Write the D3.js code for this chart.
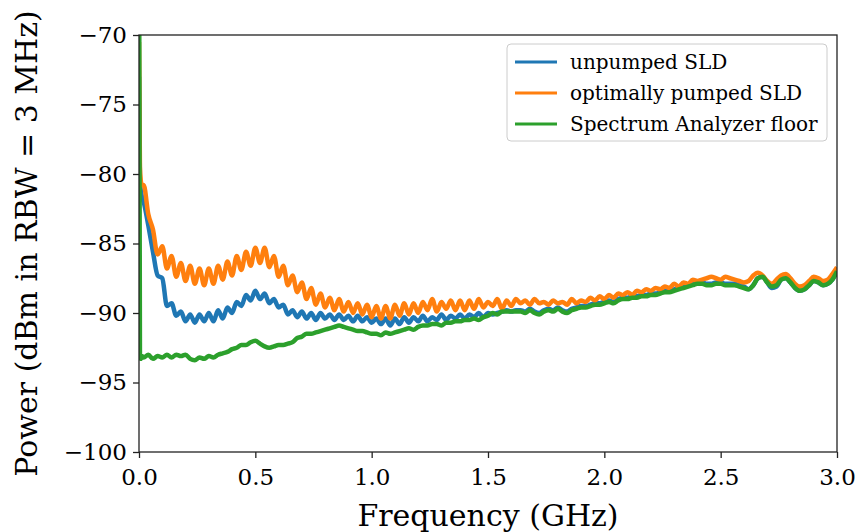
<!DOCTYPE html>
<html>
<head>
<meta charset="utf-8">
<script src="https://cdn.jsdelivr.net/npm/d3@7"></script>
<style>
  body { margin: 0; background: #fff; }
  svg { display: block; }
  text { font-family: "DejaVu Serif", serif; fill: #000; }
</style>
</head>
<body>
<div id="chart"></div>
<script>
// frequency grid (GHz): a few points near DC, then every 0.02 GHz
const leadFreqs = [0, 0.004, 0.008, 0.012];
const stepFreq = 0.02;

// power readings (dBm), same grid as above
const unpumped = [
  -73.0, -80.5, -81.2, -81.6,
  -82.0, -83.7, -85.6, -87.3, -87.5, -89.5, -89.3, -90.2, -89.9, -90.6,
  -90.1, -90.7, -90.1, -90.6, -90.0, -90.6, -89.8, -90.4, -89.6, -90.0,
  -89.2, -89.5, -88.7, -89.1, -88.4, -89.0, -88.6, -89.3, -89.0, -89.6,
  -89.4, -90.1, -89.8, -90.3, -89.9, -90.4, -90.0, -90.5, -90.0, -90.4,
  -90.1, -90.5, -90.1, -90.5, -90.2, -90.6, -90.2, -90.6, -90.3, -90.7,
  -90.4, -90.8, -90.4, -90.9, -90.4, -90.8, -90.3, -90.7, -90.3, -90.6,
  -90.2, -90.6, -90.3, -90.5, -90.1, -90.5, -90.2, -90.4, -90.1, -90.4,
  -90.1, -90.3, -90.0, -90.3, -90.0, -90.1, -90.0, -89.9, -89.8, -89.9,
  -89.8, -89.8, -89.9, -89.7, -89.9, -90.0, -89.8, -89.7, -89.8, -89.6,
  -89.8, -89.9, -89.7, -89.6, -89.5, -89.5, -89.4, -89.3, -89.3, -89.2,
  -89.1, -89.2, -89.0, -88.9, -88.9, -88.8, -88.8, -88.7, -88.7, -88.6,
  -88.6, -88.5, -88.4, -88.4, -88.3, -88.2, -88.1, -88.0, -87.9, -87.8,
  -87.8, -87.9, -87.9, -87.8, -87.8, -87.9, -87.9, -87.9, -88.0, -88.1,
  -88.3, -88.0, -87.5, -87.4, -87.8, -88.2, -88.1, -87.6, -87.5, -87.8,
  -88.2, -88.4, -88.3, -88.0, -87.7, -87.8, -88.0, -87.9, -87.6, -87.0
];

const pumped = [
  -70.5, -79.5, -80.5, -80.8,
  -80.8, -82.9, -84.0, -85.8, -85.2, -86.8, -85.9, -87.4, -86.4, -87.7,
  -86.6, -87.9, -86.8, -88.0, -86.8, -87.9, -86.6, -87.6, -86.3, -87.3,
  -85.9, -86.9, -85.6, -86.6, -85.3, -86.4, -85.3, -86.7, -85.9, -87.4,
  -86.6, -88.0, -87.3, -88.5, -87.8, -89.0, -88.2, -89.4, -88.6, -89.6,
  -88.9, -89.8, -89.0, -89.9, -89.2, -90.0, -89.3, -90.1, -89.4, -90.3,
  -89.5, -90.4, -89.5, -90.4, -89.4, -90.2, -89.3, -90.1, -89.3, -90.0,
  -89.2, -89.8, -89.0, -89.9, -89.2, -89.7, -89.1, -89.8, -89.1, -89.8,
  -89.1, -89.7, -89.0, -89.6, -89.2, -89.5, -89.0, -89.7, -89.1, -89.5,
  -89.0, -89.3, -89.1, -89.4, -89.0, -89.3, -89.2, -89.4, -89.1, -89.3,
  -89.2, -89.4, -89.0, -89.3, -89.1, -89.2, -88.9, -89.1, -88.8, -89.0,
  -88.7, -88.9, -88.6, -88.7, -88.5, -88.7, -88.4, -88.5, -88.3, -88.4,
  -88.2, -88.3, -88.1, -88.2, -87.9, -88.1, -87.8, -87.9, -87.6, -87.7,
  -87.6, -87.5, -87.4, -87.5, -87.6, -87.4, -87.5, -87.6, -87.7, -87.8,
  -87.7, -87.3, -87.1, -87.3, -87.7, -87.9, -87.6, -87.3, -87.2, -87.5,
  -87.9, -88.1, -88.0, -87.7, -87.4, -87.5, -87.7, -87.6, -87.2, -86.7
];

const floor = [
  -60.0, -93.0, -93.3, -93.1,
  -93.2, -93.0, -93.3, -93.1, -93.2, -93.0, -93.2, -93.0, -93.1, -93.0,
  -93.3, -93.4, -93.2, -93.3, -93.1, -93.2, -93.0, -92.9, -92.8, -92.6,
  -92.5, -92.3, -92.3, -92.1, -92.0, -92.2, -92.4, -92.5, -92.4, -92.3,
  -92.3, -92.2, -92.1, -91.8, -91.7, -91.5, -91.5, -91.4, -91.3, -91.2,
  -91.1, -91.0, -90.9, -91.0, -91.1, -91.2, -91.3, -91.3, -91.4, -91.5,
  -91.5, -91.6, -91.4, -91.5, -91.4, -91.3, -91.2, -91.1, -91.2, -91.0,
  -90.9, -90.9, -90.8, -90.8, -90.9, -90.7, -90.7, -90.6, -90.6, -90.5,
  -90.5, -90.4, -90.5, -90.3, -90.2, -90.0, -90.1, -89.9, -89.9, -89.9,
  -89.9, -89.9, -90.0, -89.8, -90.0, -90.1, -89.9, -89.8, -89.9, -89.7,
  -89.9, -90.0, -89.8, -89.7, -89.6, -89.6, -89.5, -89.4, -89.4, -89.3,
  -89.2, -89.3, -89.1, -89.0, -89.0, -88.9, -88.9, -88.8, -88.8, -88.7,
  -88.7, -88.6, -88.5, -88.5, -88.4, -88.3, -88.2, -88.1, -88.0, -87.9,
  -87.9, -88.0, -88.0, -87.9, -87.9, -88.0, -88.0, -88.0, -88.1, -88.2,
  -88.3, -88.0, -87.5, -87.4, -87.8, -88.1, -88.0, -87.6, -87.5, -87.8,
  -88.2, -88.4, -88.3, -88.0, -87.7, -87.8, -88.0, -87.9, -87.6, -87.0
];

const seriesNames = ["unpumped SLD", "optimally pumped SLD", "Spectrum Analyzer floor"];
const seriesColors = ["#1f77b4", "#ff7f0e", "#2ca02c"];
const xTicks = [0, 0.5, 1.0, 1.5, 2.0, 2.5, 3.0];
const yTicks = [-100, -95, -90, -85, -80, -75, -70];

const freqs = leadFreqs.concat(d3.range(1, 151).map(i => +(i * stepFreq).toFixed(3)));

function drawChart() {
    const width = 858, height = 532;
    const margin = { top: 35, right: 21, bottom: 80, left: 139 };
    const innerW = width - margin.left - margin.right;
    const innerH = height - margin.top - margin.bottom;

    const svg = d3.select("#chart").append("svg")
        .attr("width", width)
        .attr("height", height);

    const x = d3.scaleLinear().domain([0, 3]).range([0, innerW]);
    const y = d3.scaleLinear().domain([-100, -70]).range([innerH, 0]);

    svg.append("defs").append("clipPath").attr("id", "clip")
        .append("rect").attr("width", innerW).attr("height", innerH);

    const g = svg.append("g").attr("transform", `translate(${margin.left},${margin.top})`);

    const line = d3.line()
        .x((d, i) => x(freqs[i]))
        .y(d => y(d))
        .curve(d3.curveMonotoneX);

    const plot = g.append("g").attr("clip-path", "url(#clip)");
    [unpumped, pumped, floor].forEach((vals, k) => {
        plot.append("path")
            .datum(vals)
            .attr("fill", "none")
            .attr("stroke", seriesColors[k])
            .attr("stroke-width", 4.5)
            .attr("stroke-linejoin", "round")
            .attr("d", line);
    });

    // axes
    const xAxis = g.append("g")
        .attr("transform", `translate(0,${innerH})`)
        .call(d3.axisBottom(x).tickValues(xTicks).tickFormat(d3.format(".1f")).tickSize(6).tickPadding(11));
    const yAxis = g.append("g")
        .call(d3.axisLeft(y).tickValues(yTicks).tickSize(6).tickPadding(6));

    [xAxis, yAxis].forEach(a => {
        a.select(".domain").remove();
        a.selectAll("line").attr("stroke", "#222").attr("stroke-width", 1.3);
        a.selectAll("text").attr("font-family", "DejaVu Serif").attr("font-size", 23).attr("fill", "#000");
    });

    g.append("rect")
        .attr("width", innerW).attr("height", innerH)
        .attr("fill", "none").attr("stroke", "#222").attr("stroke-width", 1.3);

    g.append("text")
        .attr("x", innerW / 2).attr("y", innerH + 74)
        .attr("text-anchor", "middle")
        .attr("font-size", 30)
        .text("Frequency (GHz)");

    g.append("text")
        .attr("transform", `translate(${-102},${innerH / 2}) rotate(-90)`)
        .attr("text-anchor", "middle")
        .attr("font-size", 30)
        .text("Power (dBm in RBW = 3 MHz)");

    // legend
    const leg = g.append("g").attr("transform", `translate(${368},${9})`);
    leg.append("rect")
        .attr("width", 320).attr("height", 97)
        .attr("rx", 4)
        .attr("fill", "#fff").attr("fill-opacity", 0.8)
        .attr("stroke", "#ccc").attr("stroke-width", 1);
    seriesNames.forEach((name, k) => {
        const yy = 18 + k * 31;
        leg.append("line")
            .attr("x1", 8).attr("x2", 50)
            .attr("y1", yy).attr("y2", yy)
            .attr("stroke", seriesColors[k]).attr("stroke-width", 3);
        leg.append("text")
            .attr("x", 63).attr("y", yy)
            .attr("dy", "0.35em")
            .attr("font-size", 20)
            .text(name);
    });
}

drawChart();
</script>
</body>
</html>
